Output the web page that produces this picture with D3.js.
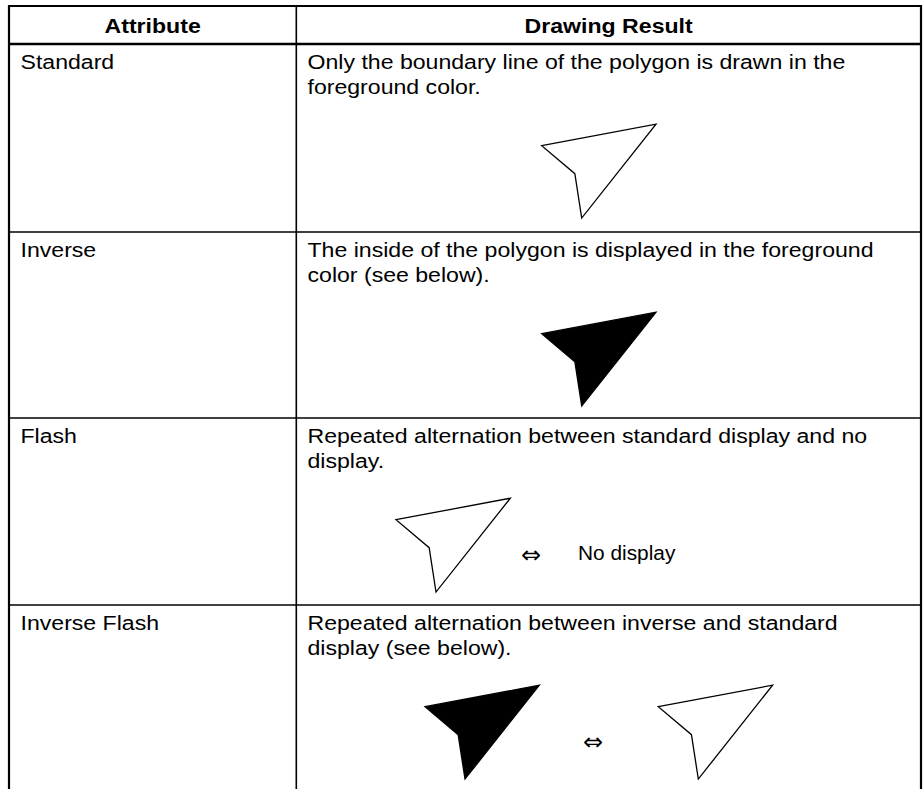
<!DOCTYPE html>
<html>
<head>
<meta charset="utf-8">
<script src="https://cdn.jsdelivr.net/npm/d3@7"></script>
<style>
  html, body { margin: 0; padding: 0; background: #fff; }
  svg { display: block; }
</style>
</head>
<body>
<div id="chart"></div>
<script>
// ---------- data ----------
const headers = ["Attribute", "Drawing Result"];
const attributes = ["Standard", "Inverse", "Flash", "Inverse Flash"];
const descriptions = [
  ["Only the boundary line of the polygon is drawn in the", "foreground color."],
  ["The inside of the polygon is displayed in the foreground", "color (see below)."],
  ["Repeated alternation between standard display and no", "display."],
  ["Repeated alternation between inverse and standard", "display (see below)."]
];
// polygon shape (unit coordinates: left tip, top-right tip, bottom tip, notch)
const polygonShape = [[0, 0], [1, -0.188], [0.35, 0.633], [0.29, 0.245]];
// figure sequence shown in each row
const figures = [
  ["outline"],
  ["filled"],
  ["outline", "swap", "none"],
  ["filled", "swap", "outline"]
];
const noDisplayLabel = "No display";
const swapSymbol = "\u21D4";

// ---------- layout ----------
const W = 924, H = 789;
const tblLeft = 9, tblRight = 921, tblDivider = 296.3, tblTop = 6, headerBottom = 44;
const rowEdges = [44, 232, 418, 605, 800];
const font = "'Liberation Sans', Arial, Helvetica, sans-serif";
const stretch = 1.1;

const svg = d3.select("#chart").append("svg").attr("width", W).attr("height", H);

const figX = d3.scaleLinear().domain([0, 1]).range([0, 114.3]);
const figY = d3.scaleLinear().domain([0, 1]).range([0, 114.3]);

const figAnchors = [
  [541.7],
  [541.7],
  [396, 531, 578],
  [425, 593, 658.3]
];

const g = svg.append("g");

function addText(parent, x, y, str, opts) {
  const sx = opts.stretch || stretch;
  const t = parent.append("g")
    .attr("transform", `translate(${x},${y}) scale(${sx},1)`)
    .append("text")
    .attr("x", 0).attr("y", 0)
    .attr("font-family", opts.family || font)
    .attr("font-size", opts.size || 21)
    .attr("fill", "#000")
    .text(str);
  if (opts.bold) t.attr("font-weight", "bold");
  if (opts.anchor) t.attr("text-anchor", opts.anchor);
  if (opts.baseline) t.attr("dominant-baseline", opts.baseline);
  return t;
}

headers.forEach((h, i) => {
  const cx = i === 0 ? (tblLeft + tblDivider) / 2 : (tblDivider + tblRight) / 2;
  addText(g, cx, 32.5, h, { bold: true, anchor: "middle", size: 21 });
});

attributes.forEach((a, i) => {
  const y0 = rowEdges[i];
  addText(g, 20.5, y0 + 25, a, { size: 21 });
  descriptions[i].forEach((d, k) => addText(g, 307.5, y0 + 25 + k * 25.3, d, { size: 21 }));

  const cy = y0 + 101.7;
  figures[i].forEach((f, k) => {
    const ax = figAnchors[i][k];
    if (f === "outline" || f === "filled") {
      const pts = polygonShape.map(p => [ax + figX(p[0]), cy + figY(p[1])]);
      g.append("path")
        .attr("d", d3.line()(pts) + "Z")
        .attr("fill", f === "filled" ? "#000" : "#fff")
        .attr("stroke", "#000")
        .attr("stroke-width", 1.3)
        .attr("stroke-linejoin", "miter");
    } else if (f === "swap") {
      addText(g, ax, y0 + 137, swapSymbol, {
        family: "'DejaVu Sans', sans-serif", size: 24, anchor: "middle",
        baseline: "central", stretch: 1
      });
    } else if (f === "none") {
      addText(g, ax, y0 + 135, noDisplayLabel, { size: 19.5, stretch: 1.07, baseline: "central" });
    }
  });
});

const lines = g.append("g").attr("stroke", "#000").attr("fill", "none");
lines.append("line").attr("x1", tblLeft - 1).attr("x2", tblRight + 1).attr("y1", tblTop).attr("y2", tblTop).attr("stroke-width", 2.2);
lines.append("line").attr("x1", tblLeft).attr("x2", tblRight).attr("y1", headerBottom).attr("y2", headerBottom).attr("stroke-width", 2.6);
lines.selectAll("line.row").data(rowEdges.slice(1, 4)).join("line")
  .attr("class", "row")
  .attr("x1", tblLeft).attr("x2", tblRight).attr("y1", d => d).attr("y2", d => d).attr("stroke-width", 1.6);
lines.append("line").attr("x1", tblLeft).attr("x2", tblLeft).attr("y1", tblTop - 1).attr("y2", H).attr("stroke-width", 2.2);
lines.append("line").attr("x1", tblRight).attr("x2", tblRight).attr("y1", tblTop - 1).attr("y2", H).attr("stroke-width", 2.2);
lines.append("line").attr("x1", tblDivider).attr("x2", tblDivider).attr("y1", tblTop).attr("y2", H).attr("stroke-width", 1.6);
</script>
</body>
</html>
